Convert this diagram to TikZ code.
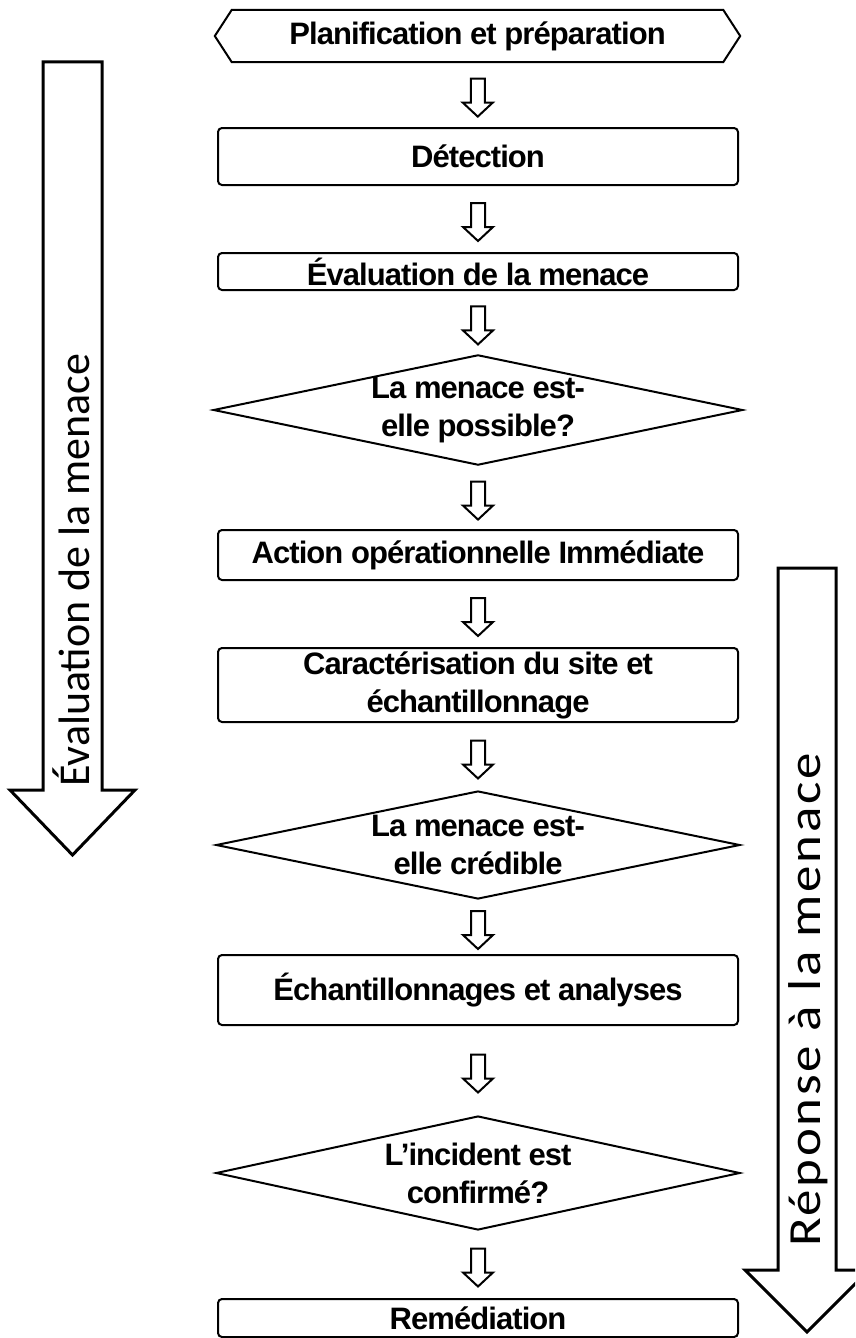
\documentclass[tikz,border=0pt]{standalone}
\usepackage{fontspec}
\setmainfont{Liberation Sans}
\newfontfamily\boxfont{Liberation Sans}[LetterSpace=-3]
\newfontfamily\sidefont{Carlito}
\newfontfamily\sidefontwide{Carlito}[LetterSpace=5]
\usetikzlibrary{shapes.geometric,calc}

\begin{document}
\begin{tikzpicture}[x=1pt,y=-1pt,
  every node/.style={font=\boxfont\bfseries\fontsize{31}{38}\selectfont, align=center, inner sep=0pt},
  stepbox/.style={draw, line width=2pt, rounded corners=4pt, minimum width=520pt},
  decision/.style={draw, line width=2pt, diamond, aspect=4.8, minimum width=524pt, minimum height=108pt},
  flow/.style={line width=2pt, line join=miter, to path={
    let \p1=($(\tikztostart)!0.5!(\tikztotarget)$) in
    (\x1-7pt,\y1+16pt) -- (\x1-7pt,\y1-8pt) -- (\x1-15pt,\y1-8pt) -- (\x1,\y1-22pt)
    -- (\x1+15pt,\y1-8pt) -- (\x1+7pt,\y1-8pt) -- (\x1+7pt,\y1+16pt) -- cycle}},
  bigarrow/.style={draw, line width=3pt, line join=miter},
  sidelabel/.style={rotate=90}
]
% page frame
\fill[white] (0,0) rectangle (855,1338);
\useasboundingbox (0,0) rectangle (855,1338);
\clip (0,0) rectangle (855,1338);

% main column of steps
\node[minimum width=525pt, minimum height=52pt] (plan) at (477.5,36) {Planification et préparation};
\draw[line width=2pt] (plan.west) -- ([xshift=17pt]plan.north west) -- ([xshift=-17pt]plan.north east)
  -- (plan.east) -- ([xshift=-17pt]plan.south east) -- ([xshift=17pt]plan.south west) -- cycle;

\node[stepbox, minimum height=57pt] (det) at (478,156.5) {Détection};
\node[stepbox, minimum height=37pt] (eval) at (478,271.5) {Évaluation de la menace};
\node[decision] (d1) at (478,410) {La menace est-\\elle possible?};
\node[stepbox, minimum height=50pt] (act) at (478,555) {Action opérationnelle Immédiate};
\node[stepbox, minimum height=74pt] (car) at (478,685) {Caractérisation du site et\\échantillonnage};
\node[decision] (d2) at (478,845) {La menace est-\\elle crédible};
\node[stepbox, minimum height=70pt] (ech) at (478,990) {Échantillonnages et analyses};
\node[decision, minimum height=114pt] (d3) at (478,1173) {L’incident est\\confirmé?};
\node[stepbox, minimum height=38pt] (rem) at (478,1318) {Remédiation};

% hollow arrows between steps
\draw[flow] (plan.south) to (det.north);
\draw[flow] (det.south) to (eval.north);
\draw[flow] (eval.south) to (d1.north);
\draw[flow] (d1.south) to (act.north);
\draw[flow] (act.south) to (car.north);
\draw[flow] (car.south) to (d2.north);
\draw[flow] (d2.south) to (ech.north);
\draw[flow] (ech.south) to (d3.north);
\draw[flow] (d3.south) to (rem.north);

% phase arrows on both sides
\draw[bigarrow] (43,62) -- (102,62) -- (102,790) -- (135,790) -- (72.5,855)
  -- (10,790) -- (43,790) -- cycle;
\node[sidelabel, font=\sidefont\fontsize{44}{44}\selectfont] (lefttxt) at (71,570) {Évaluation de la menace};

\draw[bigarrow] (778,568) -- (836,568) -- (836,1270) -- (869,1270) -- (807,1332)
  -- (745,1270) -- (778,1270) -- cycle;
\node[sidelabel, font=\sidefontwide\fontsize{46}{46}\selectfont] (righttxt) at (808,1000)
  {\scalebox{1.15}[1]{Réponse à la menace}};
\end{tikzpicture}
\end{document}
